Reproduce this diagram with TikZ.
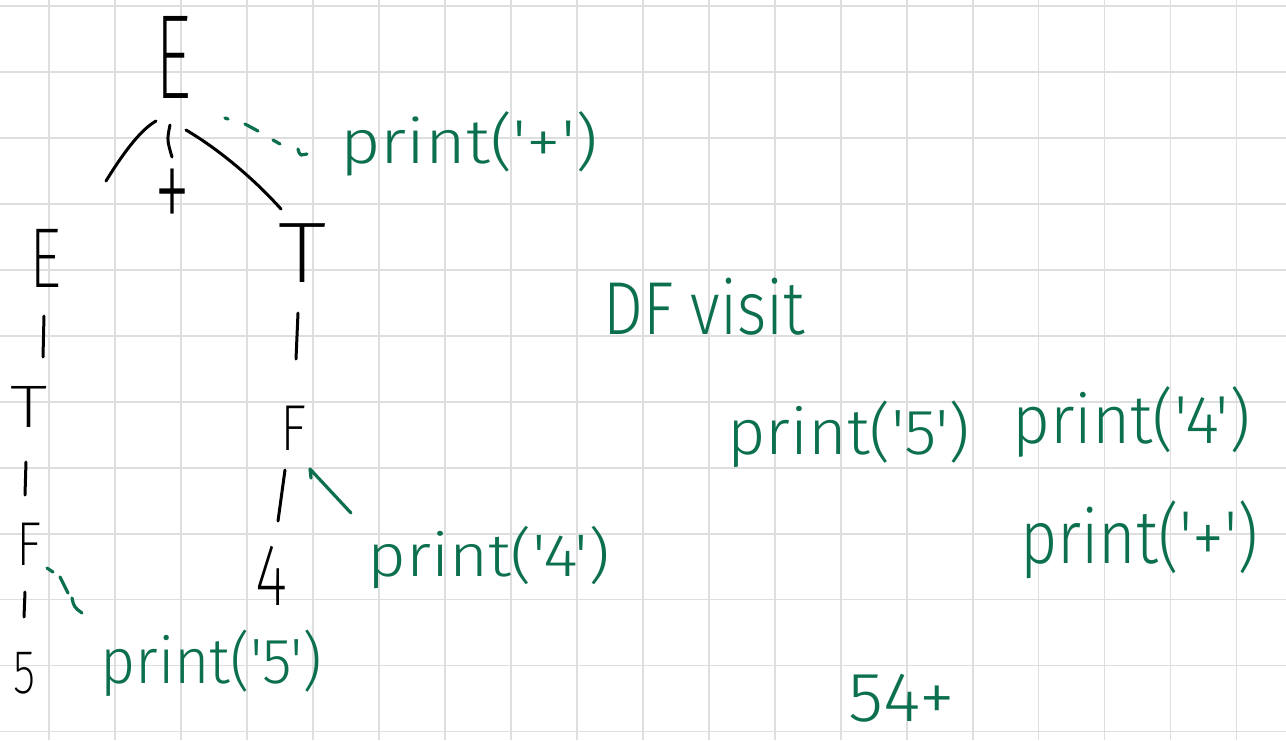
\documentclass[tikz,border=0pt]{standalone}
\usepackage{fontspec}
\usepackage{graphicx}
\newfontfamily\handL{Fira Sans Light}
\newfontfamily\handT{Fira Sans ExtraLight}
\definecolor{ink}{RGB}{12,112,80}
\definecolor{gridc}{RGB}{222,222,222}
\newcommand{\hw}[3]{\resizebox{#1pt}{\height}{\fontsize{#2}{#2}\selectfont #3}}
\begin{document}
\begin{tikzpicture}[x=1pt,y=-1pt,
  tree/.style={inner sep=0pt, anchor=base, font=\handT, text=black},
  note/.style={inner sep=0pt, anchor=base west, font=\handL, text=ink},
  edge/.style={draw=black, line width=3pt, line cap=round, line join=round},
  gedge/.style={draw=ink, line width=3.2pt, line cap=round, line join=round},
  gridline/.style={draw=gridc, line width=1.8pt}]
\useasboundingbox (0,0) rectangle (1286,740);
\fill[white] (0,0) rectangle (1286,740);
% grid
\foreach \i in {0,...,18} \draw[gridline] ({49.3+\i*65.95},0) -- ({49.3+\i*65.95},740);
\foreach \j in {0,...,11} \draw[gridline] (0,{6+\j*65.95}) -- (1286,{6+\j*65.95});

% tree nodes
\node[tree] (Etop) at (173,98) {\hw{36}{120}{E}};
\node[tree, anchor=center] (plus) at (172,202) {\hw{36}{130}{+}};
\node[tree] (Tr) at (302,282) {\hw{48}{86}{T}};
\node[tree] (El) at (46,287) {\hw{32}{85}{E}};
\node[tree] (Tl) at (29,427) {\hw{37}{60}{T}};
\node[tree] (Fl) at (29,565) {\hw{25}{62}{F}};
\node[tree] (Fr) at (293,450) {\hw{26}{65}{F}};
\node[tree] (four) at (271,605) {\hw{32}{88}{4}};
\node[tree] (five) at (25,693) {\hw{22}{62}{5}};

% green notes
\node[note] (pplus) at (340,163) {\hw{258}{62}{print('+')}};
\node[note] (pfour) at (367,576) {\hw{243}{60}{print('4')}};
\node[note] (pfive) at (100,683) {\hw{222}{64}{print('5')}};
\node[note] (dfv) at (603,334) {\hw{202}{75}{DF visit}};
\node[note] (qfive) at (727,454) {\hw{243}{64}{print('5')}};
\node[note] (qfour) at (1012,443) {\hw{238}{68}{print('4')}};
\node[note] (qplus) at (1020,563) {\hw{238}{75}{print('+')}};
\node[note] (out) at (848,721) {\hw{107}{70}{54+}};

% stroke end points
\coordinate (a1) at (156,121); \coordinate (a2) at (106,181);
\coordinate (b1) at (170,125); \coordinate (b2) at (172,157);
\coordinate (c1) at (186,130); \coordinate (c2) at (281,209);
\coordinate (d1) at (44,316);  \coordinate (d2) at (43,357);
\coordinate (e1) at (26,462);  \coordinate (e2) at (25,495);
\coordinate (f1) at (25,592);  \coordinate (f2) at (24,617);
\coordinate (g1) at (298,313); \coordinate (g2) at (296,359);
\coordinate (h1) at (285,470); \coordinate (h2) at (278,521);

% black tree edges
\draw[edge] (a1) .. controls (140,130) and (122,155) .. (a2);
\draw[edge] (b1) .. controls (167,140) .. (b2);
\draw[edge] (c1) .. controls (220,150) and (255,180) .. (c2);
\draw[edge] (d1) -- (d2);
\draw[edge] (e1) -- (e2);
\draw[edge] (f1) -- (f2);
\draw[edge] (g1) -- (g2);
\draw[edge] (h1) -- (h2);

% green dashed pointer to print('+')
\coordinate (p1) at (225,118);
\coordinate (p2) at (307,154);
\draw[gedge] (p1) -- ++(3,1)
  (245,124) -- (258,131)
  (273,140) -- (280,144)
  (298,149) .. controls (299,153) .. (301,155) -- (p2);

% green pointer from F to print('4')
\coordinate (q1) at (311,478);
\coordinate (q2) at (351,513);
\draw[gedge] (q1) -- (310,469) -- (q2);

% green dashed pointer from F to print('5')
\coordinate (r1) at (47,568);
\coordinate (r2) at (82,613);
\draw[gedge] (r1) -- (53,572)
  (60,577) -- (68,593)
  (72,598) .. controls (74,607) .. (r2);
\end{tikzpicture}
\end{document}
